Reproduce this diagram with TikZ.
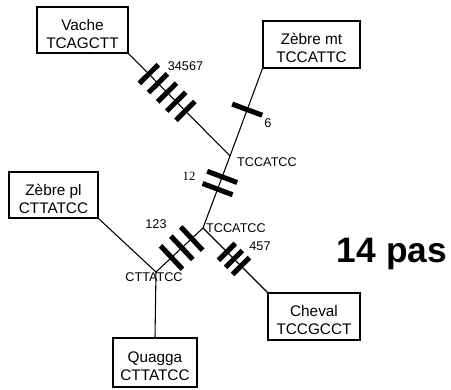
\documentclass[tikz,border=0pt]{standalone}
\usepackage{fontspec}
\setmainfont{Liberation Sans}
\newfontfamily\serifnum{Liberation Serif}

\newcommand{\toprule}{\rule{0pt}{14pt}}

\tikzset{
  taxon/.style={draw, line width=0.8pt, minimum height=34.5pt, inner sep=1pt,
    align=center, font=\fontsize{11.5}{13.5}\selectfont},
  mutbar/.style={fill=black, sloped, inner sep=0pt, minimum width=3.8pt, minimum height=#1},
  mutbar/.default=24pt,
  seq/.style={inner sep=0pt, font=\fontsize{9.5}{11}\selectfont},
}

\begin{document}
\begin{tikzpicture}[x=0.75pt, y=-0.75pt, line width=0.8pt]
\useasboundingbox (0,0) rectangle (451,390);

% the five species
\node[taxon, minimum width=68.25pt] (vache) at (82.5,30) {\toprule Vache\\TCAGCTT};
\node[taxon, minimum width=72.75pt, minimum height=35.25pt] (zmt) at (311.5,44.5) {\toprule Z\`ebre mt\\TCCATTC};
\node[taxon, minimum width=66.75pt] (zpl) at (53.5,195) {\toprule Z\`ebre pl\\CTTATCC};
\node[taxon, minimum width=63pt, minimum height=36.75pt] (quagga) at (155,362.5) {\toprule Quagga\\CTTATCC};
\node[taxon, minimum width=69pt, minimum height=35.25pt] (cheval) at (314,316.5) {\toprule Cheval\\TCCGCCT};

% inner nodes of the tree
\coordinate (up) at (230,156);
\coordinate (mid) at (203,228);
\coordinate (low) at (156,272);

% branches with their changes
\draw (vache.south east) -- (up)
  node[mutbar=20pt, pos=0.2] {} node[mutbar=20pt, pos=0.29] {}
  node[mutbar=20pt, pos=0.38] {} node[mutbar=20pt, pos=0.47] {}
  node[mutbar=20pt, pos=0.56] {};
\draw (zmt.south west) -- (up) node[mutbar, pos=0.47] {};
\draw (up) -- (mid) node[mutbar, pos=0.29] {} node[mutbar, pos=0.46] {};
\draw (mid) -- (low) node[mutbar, pos=0.24] {} node[mutbar, pos=0.45] {} node[mutbar, pos=0.67] {};
\draw (mid) -- (cheval.north west)
  node[mutbar=18pt, pos=0.37] {} node[mutbar=18pt, pos=0.48] {} node[mutbar=18pt, pos=0.59] {};
\draw (zpl.south east) -- (low);
\draw (low) -- (quagga.north);

% labels
\node[seq] (n34567) at (185.5,66) {34567};
\node[seq] (n6) at (268,123) {6};
\node[seq, font=\fontsize{9.5}{11}\serifnum] (n12) at (189,176) {12};
\node[seq] (n123) at (156,224) {123};
\node[seq] (n457) at (260,246) {457};
\node[seq] (sup) at (267,162) {TCCATCC};
\node[seq] (smid) at (236,228) {TCCATCC};
\node[seq] (slow) at (154,277) {CTTATCC};

\node[anchor=base, inner sep=0pt, font=\fontsize{26.5}{30}\selectfont\bfseries] (steps) at (392,262) {14 pas};
\end{tikzpicture}
\end{document}
